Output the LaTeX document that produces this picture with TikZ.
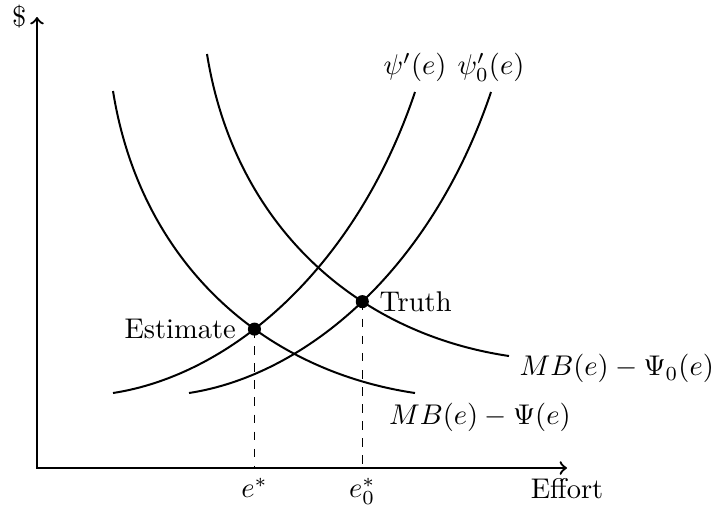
\documentclass[tikz,border=0pt]{standalone}
\usepackage{amsmath}
\usetikzlibrary{positioning, intersections}

\begin{document}
\begin{tikzpicture}[
  x=0.351pt, y=-0.351pt,
  % Line styles
  axis/.style  = {<->, thick},
  curve/.style = {line width=0.7pt},
  guide/.style = {dashed, thin},
  % Node styles
  dot/.style   = {circle, fill=black, inner sep=0pt, minimum size=4.6pt}
]
\useasboundingbox (0,0) rectangle (718,516);

% =========================== AXES ===========================
\coordinate (O)    at (37,468);
\coordinate (Ytop) at (37,17);
\coordinate (Xend) at (567,468);
\draw[axis] (Ytop) node[left] (dollar) {\$} |- (Xend) node[below] (effort) {Effort};

% =========================== BENEFIT CURVES ===========================
\draw[curve, name path=mb]  (113,91) .. controls (140,260) and (260,370) .. (415,393)
  node[below right, xshift=-4.5mm] (lblMb) {$MB(e)-\Psi(e)$};
\draw[curve, name path=mbz] (207,54) .. controls (234,223) and (354,333) .. (509,356)
  node[right, yshift=-4.5pt] (lblMbz) {$MB(e)-\Psi_0(e)$};

% =========================== COST CURVES ===========================
\draw[curve, name path=psi]  (113,393) .. controls (230,375) and (355,270) .. (415,92)
  node[above] (lblPsi) {$\psi'(e)$};
\draw[curve, name path=psiz] (189,393) .. controls (306,375) and (431,270) .. (491,92)
  node[above] (lblPsiz) {$\psi'_0(e)$};

% =========================== EQUILIBRIA ===========================
\path[name intersections={of=mb and psi, by=E}];
\path[name intersections={of=mbz and psiz, by=T}];

\draw[guide] (E) -- (E |- O) node[below] (estar) {$e^*$};
\draw[guide] (T) -- (T |- O) node[below] (ezstar) {$e_0^*$};

\node[dot] (est)   at (E) {};
\node[dot] (truth) at (T) {};
\node[left=0.5pt of est]  (lblEst)   {Estimate};
\node[right=0pt of truth] (lblTruth) {Truth};

\end{tikzpicture}
\end{document}
